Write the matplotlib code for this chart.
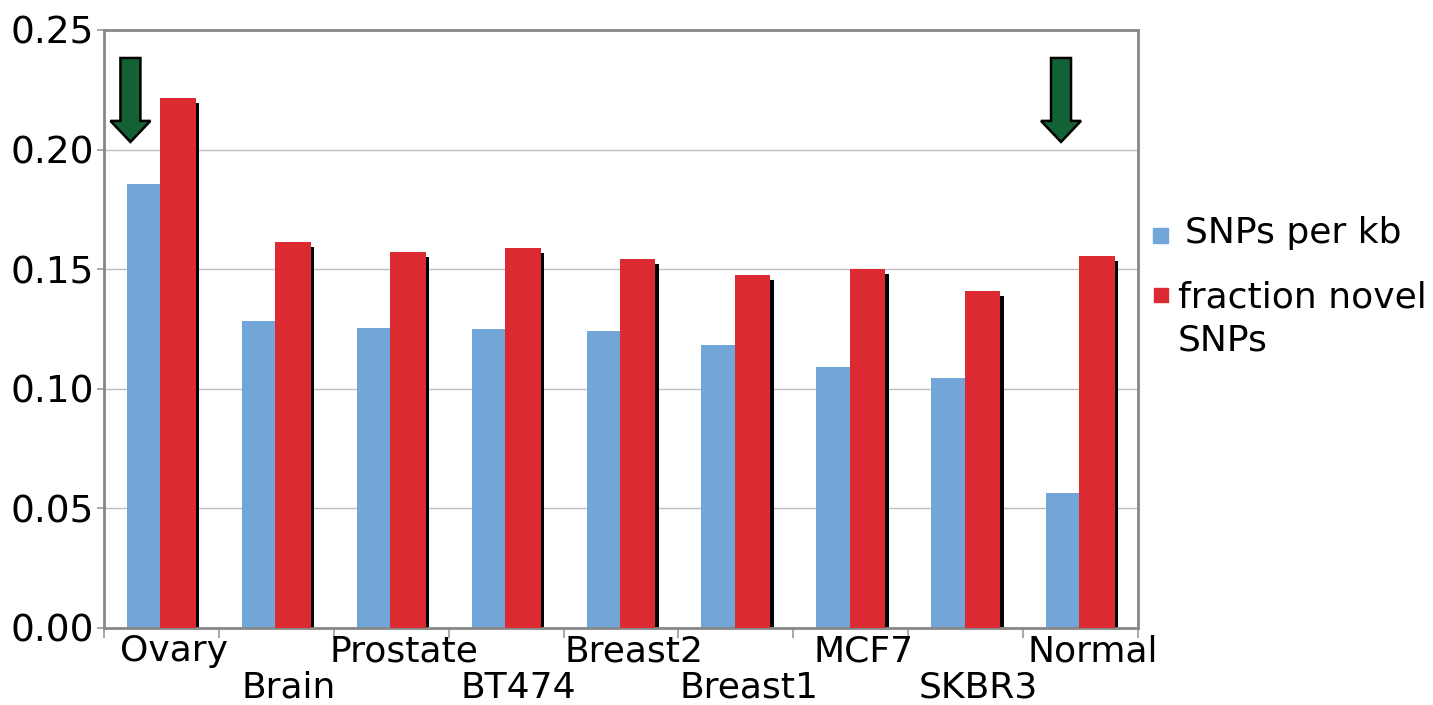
import matplotlib
matplotlib.use("Agg")
import matplotlib.pyplot as plt
from matplotlib.patches import FancyArrow, Rectangle
import matplotlib.transforms as mtrans
import numpy as np

# datos
tissues = ["Ovary", "Brain", "Prostate", "BT474", "Breast2",
           "Breast1", "MCF7", "SKBR3", "Normal"]
snps_per_kb = [0.1856, 0.1283, 0.1254, 0.1250, 0.1242,
               0.1183, 0.1091, 0.1045, 0.0564]
frac_novel = [0.2216, 0.1614, 0.1572, 0.1589, 0.1543,
              0.1476, 0.1501, 0.1409, 0.1555]
legend_labels = ["SNPs per kb", "fraction novel", "SNPs"]
yticks = [0.00, 0.05, 0.10, 0.15, 0.20, 0.25]
arrow_tissues = ["Ovary", "Normal"]
arrow_offsets = [-0.27, -0.17]

blue = "#72a5d8"
red = "#dc2a32"
green = "#136235"
fs = 26

plt.rcParams['font.family'] = ['DejaVu Sans']
fig = plt.figure(figsize=(14.33, 7.05), dpi=100)
ax = fig.add_axes([104 / 1433, 77 / 705, 1034 / 1433, 598 / 705])

x = np.arange(len(tissues)) + 0.5
ax.bar(x - 0.30, snps_per_kb, width=0.29, align='edge', color=blue, zorder=2)
# sombra negra de las barras rojas
ax.bar(x + 0.02, np.array(frac_novel) - 0.002, width=0.31, align='edge',
       color='black', zorder=2)
ax.bar(x - 0.01, frac_novel, width=0.31, align='edge', color=red, zorder=3)

# flechas verdes
for t, off in zip(arrow_tissues, arrow_offsets):
    xi = tissues.index(t) + 0.5 + off
    ax.add_patch(FancyArrow(xi, 0.2383, 0, -0.0351, width=0.174,
                            head_width=0.348, head_length=0.0088,
                            length_includes_head=True, facecolor=green,
                            edgecolor='black', linewidth=1.8, zorder=5))

ax.set_xlim(0, len(tissues))
ax.set_ylim(0, 0.25)
ax.set_yticks(yticks)
ax.set_yticklabels([f"{v:.2f}" for v in yticks], fontsize=27)
ax.yaxis.grid(True, color='#bdbdbd', linewidth=1.0, zorder=0)
ax.set_axisbelow(True)

# marcas en los limites de categoria
ax.set_xticks(np.arange(len(tissues) + 1))
ax.set_xticklabels([])
ax.tick_params(axis='x', which='major', length=7, color='#999999', width=1.2)
ax.tick_params(axis='y', length=5, color='#999999', width=1.2, pad=2)

# etiquetas en dos filas alternas
trans = mtrans.blended_transform_factory(ax.transData, ax.transAxes)
for i, t in enumerate(tissues):
    yoff = -6 if i % 2 == 0 else -43
    ax.text(x[i] + 0.11, 0, t, transform=trans + mtrans.ScaledTranslation(
        0, yoff / 100, fig.dpi_scale_trans), fontsize=fs, ha='center', va='top')

for s in ax.spines.values():
    s.set_color('#888888')
    s.set_linewidth(2)

# leyenda manual
H = 705.0
W = 1433.0
fig.add_artist(Rectangle((1153 / W, 1 - 243 / H), 15 / W, 15 / H,
                         transform=fig.transFigure, color=blue))
fig.text(1185 / W, 1 - 243 / H, legend_labels[0], fontsize=fs, va='baseline')
fig.add_artist(Rectangle((1154 / W, 1 - 302 / H), 14 / W, 14 / H,
                         transform=fig.transFigure, color=red))
fig.text(1178 / W, 1 - 307 / H, legend_labels[1], fontsize=fs, va='baseline')
fig.text(1178 / W, 1 - 350 / H, legend_labels[2], fontsize=fs, va='baseline')

fig.savefig("out.png", dpi=100)
